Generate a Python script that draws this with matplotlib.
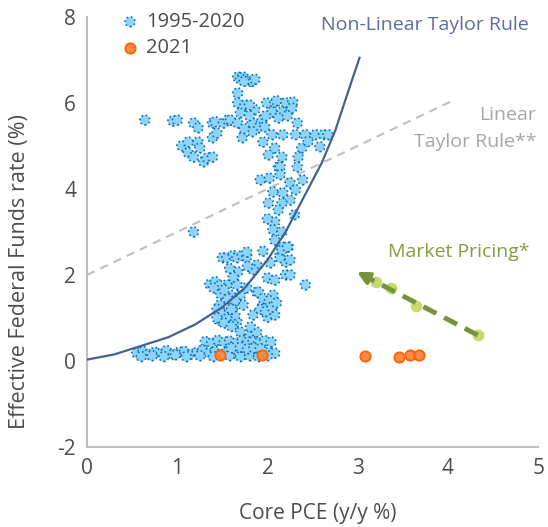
import matplotlib.pyplot as plt
from matplotlib import font_manager

# 1995-2020 monthly points (core PCE, fed funds)
hist_x = [0.64, 0.95, 1.00, 1.05, 1.12, 1.12, 1.18, 1.18, 1.23, 1.23, 1.25, 1.29, 1.33, 1.39, 1.39, 1.39,
          1.42, 1.44, 1.51, 1.56, 1.59, 1.18,
          1.67, 1.70, 1.73, 1.76, 1.80, 1.83, 1.86, 1.74, 1.67, 1.67, 1.70, 1.67, 1.86, 1.99, 2.08, 2.20,
          2.28, 2.05, 2.16, 2.27, 2.12, 2.33, 1.83, 1.94, 1.90, 1.97, 1.83, 2.05, 2.17, 2.31, 2.42, 2.53,
          2.62, 2.67, 1.72, 1.95, 2.58, 2.08, 2.01, 2.16, 2.38, 2.34, 2.12, 2.33, 1.92, 2.14, 2.14, 2.25,
          2.39, 2.31, 2.06, 2.17, 2.25, 2.01, 2.16, 2.12, 2.08, 2.06, 2.16, 2.08, 2.16, 2.23, 2.14, 2.20,
          1.50, 1.55, 1.62, 1.66, 1.72, 1.77, 1.77, 1.88, 2.03, 2.14, 2.16, 2.22, 2.20, 2.25, 1.67, 1.84,
          2.00, 2.08, 2.42, 1.55, 1.66, 1.77, 1.88, 2.06, 1.59, 1.70, 1.36, 1.42, 1.47, 1.47, 1.62, 1.73,
          1.84, 1.95, 2.00, 2.08, 1.66, 1.70, 1.81, 1.88, 1.81, 1.44, 1.50, 1.58, 1.64, 1.46, 1.55, 1.62,
          1.44, 1.52, 1.60, 1.40, 1.48, 1.56, 1.64, 1.52, 1.60, 1.90, 1.95, 2.02, 1.92, 1.98, 2.05, 2.10,
          1.31, 1.38, 1.45, 1.52, 1.58, 1.65, 1.72, 1.78, 1.84, 1.90, 1.97, 2.04,
          0.55, 0.62, 0.68, 0.75, 0.82, 0.88, 0.95, 1.02, 1.08, 1.15, 1.22, 1.28, 1.35, 1.42, 1.48, 1.55,
          1.62, 1.68, 1.75, 1.82, 1.88, 1.95, 2.02, 2.08, 0.60, 0.72, 0.85, 0.98, 1.10, 1.25, 1.40, 1.58,
          1.70, 1.80, 1.90, 2.00, 1.60, 1.70, 1.78, 1.85, 1.92,
          1.75, 1.80, 2.10, 2.22, 1.98, 2.02, 1.62, 1.58, 1.78, 1.95, 2.30, 2.45, 2.00, 1.80, 1.74, 2.25]
hist_y = [5.60, 5.58, 5.60, 5.00, 5.09, 4.84, 5.53, 4.74, 5.42, 5.09, 4.95, 4.63, 4.72, 5.53, 5.19, 4.74,
          5.56, 5.30, 5.53, 5.60, 5.60, 3.00,
          6.60, 6.55, 6.60, 6.55, 6.50, 6.50, 6.55, 6.50, 6.23, 6.00, 5.77, 5.53, 5.84, 6.00, 6.00, 6.00,
          6.02, 5.79, 5.79, 5.88, 5.65, 5.53, 5.53, 5.60, 5.42, 5.44, 5.33, 5.26, 5.26, 5.26, 5.26, 5.26,
          5.26, 5.26, 5.19, 5.09, 4.98, 4.95, 4.79, 4.74, 4.95, 4.74, 4.51, 4.51, 4.21, 4.51, 4.33, 4.14,
          4.21, 3.98, 3.93, 3.91, 3.74, 3.67, 3.67, 3.51, 3.23, 3.05, 3.00, 2.81, 2.65, 2.65, 2.47, 2.30,
          2.40, 2.40, 2.45, 2.40, 2.45, 2.42, 2.53, 2.23, 2.28, 2.40, 2.58, 2.65, 2.00, 2.00, 2.07, 2.12,
          1.93, 1.88, 1.77, 1.77, 1.77, 1.70, 1.60, 1.53, 1.53, 1.53, 1.78, 1.84, 1.75, 1.30, 1.26, 1.30,
          1.07, 1.30, 1.02, 1.07, 0.91, 0.67, 0.60, 0.67, 0.79, 1.20, 1.10, 1.15, 1.05, 0.95, 0.98, 0.85,
          1.00, 0.88, 0.80, 1.70, 1.55, 1.45, 1.40, 1.65, 1.20, 1.60, 1.45, 1.40, 1.20, 1.15, 1.25, 1.35,
          0.45, 0.42, 0.48, 0.44, 0.46, 0.42, 0.48, 0.44, 0.45, 0.42, 0.47, 0.44,
          0.18, 0.22, 0.15, 0.20, 0.18, 0.24, 0.15, 0.20, 0.22, 0.16, 0.20, 0.25, 0.18, 0.22, 0.16, 0.20,
          0.24, 0.15, 0.20, 0.22, 0.18, 0.16, 0.20, 0.18, 0.10, 0.12, 0.10, 0.14, 0.10, 0.12, 0.10, 0.12,
          0.10, 0.12, 0.10, 0.12, 0.30, 0.32, 0.28, 0.30, 0.28,
          5.95, 5.70, 6.05, 5.70, 5.70, 4.25, 1.95, 2.15, 2.20, 2.55, 3.40, 5.10, 3.30, 5.95, 5.40, 2.35]

# 2021 points
y21_x = [1.47, 1.94, 3.08, 3.46, 3.58, 3.68]
y21_y = [0.14, 0.14, 0.12, 0.09, 0.14, 0.14]

# market pricing path
mkt_x = [3.20, 3.37, 3.65, 4.33]
mkt_y = [1.84, 1.70, 1.28, 0.60]
arrow_start = (4.33, 0.60)
arrow_end = (2.99, 2.07)

# taylor rules
nl_x = [0.0, 0.3, 0.6, 0.9, 1.2, 1.5, 1.75, 2.0, 2.2, 2.4, 2.6, 2.75, 2.9, 3.02]
nl_y = [0.03, 0.15, 0.35, 0.55, 0.85, 1.25, 1.7, 2.35, 3.0, 3.8, 4.6, 5.35, 6.3, 7.05]
lin_x = [0.0, 4.05]
lin_y = [2.0, 6.05]

names = {f.name for f in font_manager.fontManager.ttflist}
fam = 'Open Sans' if 'Open Sans' in names else 'DejaVu Sans'
plt.rcParams['font.family'] = [fam, 'DejaVu Sans']
plt.rcParams['axes.unicode_minus'] = False

fig = plt.figure(figsize=(5.48, 5.27), dpi=100)
ax = fig.add_axes([0.159, 0.152, 0.823, 0.816])

ax.plot(lin_x, lin_y, color='#bfbfbf', lw=1.5, dashes=(4, 3), zorder=1)
ax.scatter(hist_x, hist_y, s=50, c='#8fd4f7', edgecolors='#0070c0', linewidths=1.2,
           linestyle=(0, (1, 1.6)), zorder=2, label='1995-2020')
ax.plot(nl_x, nl_y, color='#44618f', lw=1.6, zorder=3)
ax.scatter(y21_x, y21_y, s=55, c='#fb8a48', edgecolors='#ff6200', linewidths=1.3, zorder=4, label='2021')
ax.scatter(mkt_x, mkt_y, s=55, c='#c6dc6a', edgecolors='#c6dc6a', zorder=4)

# dashed shaft + solid head
fr = 0.1
head_base = (arrow_end[0] + fr * (arrow_start[0] - arrow_end[0]),
             arrow_end[1] + fr * (arrow_start[1] - arrow_end[1]))
ax.plot([arrow_start[0], head_base[0]], [arrow_start[1], head_base[1]], color='#76923c',
        lw=3.5, dashes=(3, 1.8), zorder=5)
ax.annotate('', xy=arrow_end, xytext=head_base,
            arrowprops=dict(arrowstyle='-|>,head_length=0.7,head_width=0.35', color='#76923c',
                            lw=3.0, shrinkA=0, shrinkB=0), zorder=5)

ax.text(3.74, 7.81, 'Non-Linear Taylor Rule', color='#5b6e9c', fontsize=14, ha='center', va='center')
ax.text(4.98, 5.72, 'Linear', color='#a6a6a6', fontsize=14, ha='right', va='center')
ax.text(4.98, 5.10, 'Taylor Rule**', color='#a6a6a6', fontsize=14, ha='right', va='center')
ax.text(3.34, 2.53, 'Market Pricing*', color='#859c3f', fontsize=14, ha='left', va='center')

ax.set_xlim(0, 5)
ax.set_ylim(-2, 8)
ax.set_xticks([0, 1, 2, 3, 4, 5])
ax.set_yticks([-2, 0, 2, 4, 6, 8])
ax.tick_params(length=0, labelsize=15, labelcolor='#4d4d4d', pad=8)
for s in ['top', 'right']:
    ax.spines[s].set_visible(False)
for s in ['left', 'bottom']:
    ax.spines[s].set_color('#bfbfbf')
    ax.spines[s].set_linewidth(1.5)
ax.set_xlabel('Core PCE (y/y %)', fontsize=15, color='#4d4d4d')
ax.set_ylabel('Effective Federal Funds rate (%)', fontsize=15.5, color='#4d4d4d')
ax.xaxis.set_label_coords(0.512, -0.13)
ax.yaxis.set_label_coords(-0.126, 0.407)

leg = ax.legend(loc='upper left', bbox_to_anchor=(0.055, 1.03), frameon=False, fontsize=14.5,
                handletextpad=0.3, labelspacing=0.32, borderaxespad=0, handlelength=1.0, labelcolor='#4d4d4d')
fig.savefig('out.png', dpi=100)
